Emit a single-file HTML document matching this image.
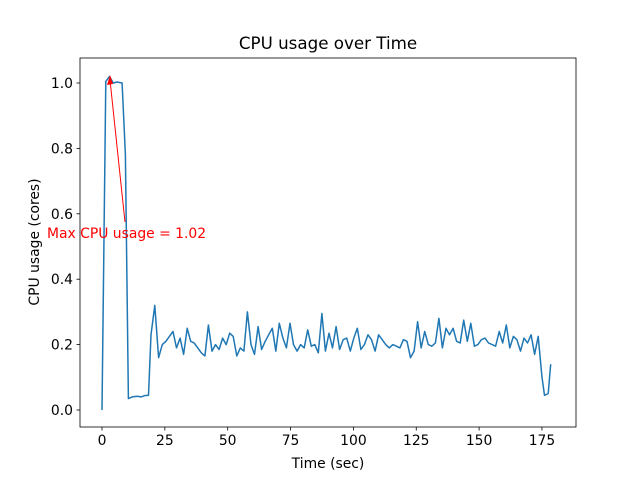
<!DOCTYPE html>
<html><head><meta charset="utf-8"><style>
body{margin:0;background:#fff;}
svg{display:block;font-family:"DejaVu Sans","Liberation Sans",sans-serif;}
</style></head><body>
<svg id="s" width="640" height="480" xmlns="http://www.w3.org/2000/svg">
<rect width="640" height="480" fill="#fff"/>
<polyline id="line" fill="none" stroke="#1f77b4" stroke-width="1.5" stroke-linejoin="round"/>
<rect x="80" y="58" width="496" height="369" fill="none" stroke="#000" stroke-width="0.8"/>
<g id="ticks" font-size="13.9" fill="#000"></g>
<text x="328" y="49" font-size="16.7" text-anchor="middle">CPU usage over Time</text>
<text x="328" y="468" font-size="13.9" text-anchor="middle">Time (sec)</text>
<text transform="translate(39,242) rotate(-90)" font-size="13.9" text-anchor="middle">CPU usage (cores)</text>
<line x1="125" y1="222" x2="110" y2="80" stroke="red" stroke-width="1"/>
<polygon points="110,75 107,85 113,84" fill="red"/>
<text x="47" y="238" font-size="13.9" fill="red">Max CPU usage = 1.02</text>
</svg>
<script>
function X(v){return 102+v*2.514;}
function Y(v){return 410-v*327;}
var d=[[0,0],[1.5,1.005],[3,1.02],[4.5,1.0],[6,1.003],[8,1.0],[9.3,0.78],[10.5,0.035],[12,0.04],[14,0.042],[15.5,0.04],[17,0.044],[18.5,0.045],[19.5,0.23],[21,0.32],[22.5,0.16]];
var noise=[0.2,0.21,0.225,0.24,0.19,0.22,0.17,0.25,0.21,0.205,0.19,0.175,0.165,0.26,0.18,0.2,0.185,0.22,0.2,0.235,0.225,0.165,0.19,0.18,0.3,0.2,0.17,0.255,0.185,0.21,0.23,0.25,0.18,0.265,0.22,0.19,0.265,0.2,0.18,0.2,0.19,0.245,0.195,0.2,0.175,0.295,0.18,0.235,0.19,0.255,0.185,0.215,0.22,0.18,0.22,0.25,0.185,0.2,0.23,0.215,0.18,0.23,0.215,0.2,0.19,0.2,0.195,0.19,0.215,0.21,0.16,0.18,0.27,0.19,0.24,0.2,0.195,0.205,0.28,0.19,0.25,0.23,0.25,0.21,0.205,0.275,0.21,0.265,0.195,0.2,0.215,0.22,0.205,0.2,0.195,0.24,0.205,0.26,0.19,0.225,0.215,0.18,0.22,0.205,0.23,0.17,0.225];
var n=noise.length;for(var i=0;i<n;i++){d.push([24+i*(149.5/(n-1)),noise[i]]);}
d.push([175,0.1],[176,0.045],[177.5,0.05],[178.5,0.14]);
document.getElementById('line').setAttribute('points',d.map(function(p){return X(p[0]).toFixed(1)+','+Y(p[1]).toFixed(1)}).join(' '));
var g=document.getElementById('ticks'),h='';
[0,25,50,75,100,125,150,175].forEach(function(v){var x=X(v);h+='<line x1="'+x+'" y1="427" x2="'+x+'" y2="430.5" stroke="#000" stroke-width="0.8"/><text x="'+x+'" y="445" text-anchor="middle">'+v+'</text>';});
[0,0.2,0.4,0.6,0.8,1.0].forEach(function(v){var y=Y(v);h+='<line x1="76.5" y1="'+y+'" x2="80" y2="'+y+'" stroke="#000" stroke-width="0.8"/><text x="73" y="'+(y+5)+'" text-anchor="end">'+v.toFixed(1)+'</text>';});
g.innerHTML=h;
</script>
</body></html>
